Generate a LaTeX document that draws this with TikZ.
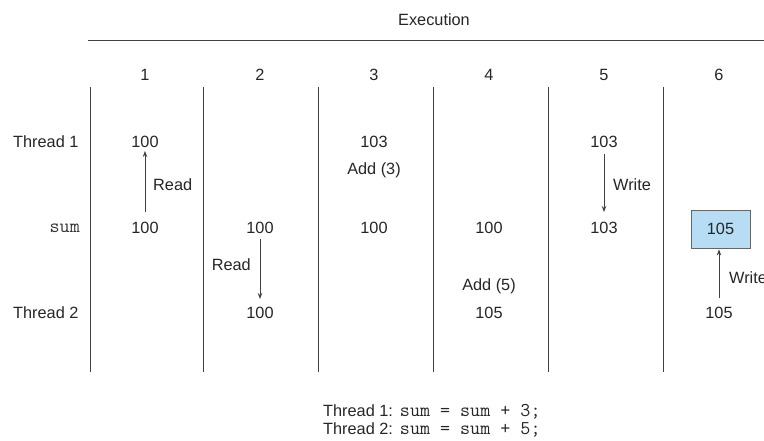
\documentclass[tikz,border=0pt]{standalone}
\usepackage{fontspec}
\setmainfont{Liberation Sans}
\usetikzlibrary{arrows.meta}
\definecolor{cellblue}{RGB}{182,221,243}
\newcommand{\codesize}{\fontsize{19.5}{21}\selectfont\ttfamily}
\begin{document}
\begin{tikzpicture}[x=1pt,y=-1pt,
  lbl/.style={font=\fontsize{16.3}{19}\selectfont, inner sep=0pt, text=black!85},
  code/.style={font=\codesize, inner sep=0pt, text=black!80},
  rule/.style={draw=black!75, line width=0.9pt},
  flow/.style={draw=black!75, line width=0.9pt, -{Stealth[length=6pt,width=4.5pt]}},
  cell/.style={lbl, anchor=center}]
\useasboundingbox (0,0) rectangle (764,441);

% header and time rule
\node[lbl] (exec) at (434,20) {Execution};
\coordinate (hl) at (88,40);
\coordinate (hr) at (764,40);
\draw[rule] (hl) -- (hr);

% step numbers
\foreach \i/\x in {1/145,2/260,3/374,4/489,5/604,6/719}
  \node[lbl] (n\i) at (\x,75) {\i};

% column separators
\foreach \i/\x in {0/90,1/203,2/318,3/433,4/548,5/663} {
  \coordinate (st\i) at (\x,87);
  \coordinate (sb\i) at (\x,372);
  \draw[rule] (st\i) -- (sb\i);
}

% row labels
\node[lbl, anchor=west] (t1) at (13,142) {Thread 1};
\node[code, anchor=east] (sumlbl) at (80,228) {sum};
\node[lbl, anchor=west] (t2) at (13,313) {Thread 2};

% step 1
\node[cell] (a1) at (145,142) {100};
\node[cell] (s1) at (145,228) {100};
\draw[flow, shorten <=10pt, shorten >=3pt] (s1) -- (a1);
\node[lbl, anchor=west] (r1) at (153,185) {Read};

% step 2
\node[cell] (s2) at (260,228) {100};
\node[cell] (b2) at (260,313) {100};
\draw[flow, shorten <=5pt, shorten >=8pt] (s2) -- (b2);
\node[lbl, anchor=east] (r2) at (251,265) {Read};

% step 3
\node[cell] (a3) at (374,142) {103};
\node[cell] (add3) at (374,170) {Add (3)};
\node[cell] (s3) at (374,228) {100};

% step 4
\node[cell] (s4) at (489,228) {100};
\node[cell] (add5) at (489,286) {Add (5)};
\node[cell] (b4) at (489,313) {105};

% step 5
\node[cell] (a5) at (604,142) {103};
\node[cell] (s5) at (604,228) {103};
\draw[flow, shorten <=6pt, shorten >=10pt] (a5) -- (s5);
\node[lbl, anchor=west] (w5) at (613,185) {Write};

% step 6
\node[lbl, draw=black!60, line width=0.8pt, fill=cellblue,
      minimum width=59pt, minimum height=38pt] (s6) at (720.5,229) {105};
\node[cell] (b6) at (719,313) {105};
\draw[flow, shorten <=9pt, shorten >=1pt] (b6) -- (b6 |- s6.south);
\node[lbl, anchor=west] (w6) at (729,278) {Write};

% source statements
\node[lbl, anchor=west] (c1) at (323,412) {Thread 1:\hspace{7pt}{\codesize sum = sum + 3;}};
\node[lbl, anchor=west] (c2) at (323,430) {Thread 2:\hspace{7pt}{\codesize sum = sum + 5;}};
\end{tikzpicture}
\end{document}
